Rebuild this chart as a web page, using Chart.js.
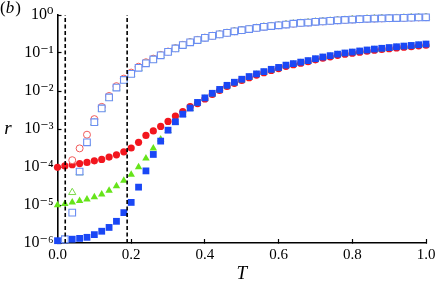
<!DOCTYPE html>
<html><head><meta charset="utf-8">
<script src="https://cdn.jsdelivr.net/npm/chart.js@4/dist/chart.umd.min.js"></script>
<style>html,body{margin:0;padding:0;background:#fff;overflow:hidden}</style>
</head><body>
<canvas id="c" width="436" height="283"></canvas>
<script>
// Temperature values (x)
const T = [0,0.02,0.04,0.06,0.08,0.1,0.12,0.14,0.16,0.18,
           0.2,0.22,0.24,0.26,0.28,0.3,0.32,0.34,0.36,0.38,
           0.4,0.42,0.44,0.46,0.48,0.5,0.52,0.54,0.56,0.58,
           0.6,0.62,0.64,0.66,0.68,0.7,0.72,0.74,0.76,0.78,
           0.8,0.82,0.84,0.86,0.88,0.9,0.92,0.94,0.96,0.98,1];

// filled markers
const filledSquares = [1.15e-6,1.2e-6,1.26e-6,1.32e-6,1.41e-6,1.66e-6,2.04e-6,2.57e-6,3.72e-6,6.3e-6,
  1.17e-5,2.95e-5,7.9e-5,2.14e-4,4.8e-4,9.3e-4,1.55e-3,2.45e-3,3.55e-3,5.0e-3,
  6.6e-3,8.7e-3,1.10e-2,1.41e-2,1.70e-2,2.04e-2,2.40e-2,2.82e-2,3.24e-2,3.72e-2,
  4.17e-2,4.79e-2,5.25e-2,5.75e-2,6.31e-2,7.08e-2,7.85e-2,8.51e-2,9.33e-2,0.100,
  0.106,0.113,0.120,0.127,0.133,0.139,0.146,0.152,0.158,0.165,
  0.172];
const filledCircles = [9.8e-5,1.07e-4,1.15e-4,1.23e-4,1.32e-4,1.45e-4,1.58e-4,1.82e-4,2.09e-4,2.51e-4,
  3.16e-4,4.47e-4,6.76e-4,8.9e-4,1.17e-3,1.58e-3,2.19e-3,2.88e-3,3.89e-3,4.67e-3,
  6.16e-3,8.1e-3,1.03e-2,1.32e-2,1.59e-2,1.90e-2,2.24e-2,2.63e-2,3.02e-2,3.47e-2,
  3.89e-2,4.47e-2,4.90e-2,5.37e-2,5.89e-2,6.61e-2,7.32e-2,7.94e-2,8.71e-2,9.33e-2,
  0.099,0.105,0.112,0.118,0.124,0.130,0.136,0.142,0.147,0.154,
  0.160];
const filledTriangles = [1.0e-5,1.07e-5,1.17e-5,1.29e-5,1.41e-5,1.62e-5,1.91e-5,2.4e-5,3.16e-5,4.37e-5,
  6.31e-5,1.0e-4,1.70e-4,3.09e-4,5.37e-4,8.9e-4,1.48e-3,2.34e-3,3.39e-3,4.78e-3,
  6.3e-3,8.31e-3,1.05e-2,1.35e-2,1.62e-2,1.95e-2,2.29e-2,2.69e-2,3.09e-2,3.55e-2,
  3.98e-2,4.57e-2,5.01e-2,5.49e-2,6.03e-2,6.76e-2,7.5e-2,8.13e-2,8.91e-2,9.55e-2,
  0.101,0.108,0.115,0.121,0.127,0.133,0.139,0.145,0.151,0.158,
  0.164];

// open markers
const openSquares = [null,1.26e-6,6.3e-6,7.6e-5,4.47e-4,1.51e-3,3.47e-3,6.76e-3,1.23e-2,1.95e-2,
  2.82e-2,4.07e-2,5.37e-2,6.76e-2,8.71e-2,0.107,0.132,0.162,0.191,0.219,
  0.251,0.282,0.309,0.339,0.372,0.398,0.427,0.457,0.490,0.513,
  0.537,0.562,0.589,0.617,0.631,0.661,0.676,0.700,0.724,0.741,
  0.759,0.776,0.794,0.804,0.813,0.822,0.832,0.841,0.851,0.861,
  0.871];
const openCircles = [null,null,1.51e-4,3.09e-4,7.08e-4,1.82e-3,3.82e-3,7.4e-3,1.34e-2,2.12e-2,
  3.05e-2,4.35e-2,5.7e-2,7.1e-2,8.9e-2,0.109,0.134,0.164,0.193,0.221,
  0.253,0.284,0.311,0.341,0.374,0.400,0.429,0.459,0.492,0.515,
  0.539,0.564,0.591,0.619,0.633,0.663,0.678,0.702,0.726,0.743,
  0.761,0.778,0.796,0.806,0.815,0.824,0.834,0.843,0.853,0.863,
  0.873];
const openTriangles = [null,null,2.14e-5,7.1e-5,4.27e-4,1.45e-3,3.35e-3,6.5e-3,1.19e-2,1.88e-2,
  2.72e-2,3.93e-2,5.2e-2,6.55e-2,8.45e-2,0.104,0.129,0.158,0.187,0.215,
  0.246,0.277,0.304,0.334,0.367,0.393,0.422,0.452,0.485,0.508,
  0.532,0.557,0.584,0.612,0.626,0.656,0.671,0.695,0.719,0.736,
  0.754,0.771,0.789,0.799,0.808,0.817,0.827,0.836,0.846,0.856,
  0.866];

// reference lines and axes
const dashedT = [0.021, 0.189];
const xRange = [0, 1];
const yRange = [1e-6, 1];
const xTicks = [0, 0.2, 0.4, 0.6, 0.8, 1.0];
const xTickLabels = ['0.0','0.2','0.4','0.6','0.8','1.0'];
const yTicks = [1e-6,1e-5,1e-4,1e-3,1e-2,1e-1,1];
const yTickLabels = ['10\u207B\u2076','10\u207B\u2075','10\u207B\u2074','10\u207B\u00B3','10\u207B\u00B2','10\u207B\u00B9','10\u2070'];

const SERIF = '"Liberation Serif", "DejaVu Serif", serif';
const pts = vals => T.map((t, i) => ({x: t, y: vals[i]}));
const vline = t => [{x: t, y: yRange[0]}, {x: t, y: yRange[1]}];

function markerDs(vals, style, radius, bg, border, bw) {
  return {data: pts(vals), pointStyle: style, pointRadius: radius, pointHoverRadius: radius,
    backgroundColor: bg, borderColor: border, pointBorderWidth: bw, borderWidth: bw,
    showLine: false, clip: false};
}
function dashDs(t) {
  return {data: vline(t), showLine: true, pointRadius: 0, borderColor: '#000',
    borderWidth: 1.6, borderDash: [4, 2.5], clip: false, fill: false};
}

const textPlugin = {
  id: 'texts',
  afterDraw(chart) {
    const ctx = chart.ctx, a = chart.chartArea;
    ctx.save();
    ctx.fillStyle = '#000';
    ctx.textAlign = 'center'; ctx.textBaseline = 'middle';
    ctx.font = 'italic 19px ' + SERIF;
    ctx.fillText('r', 8, (a.top + a.bottom) / 2);
    ctx.textAlign = 'left'; ctx.textBaseline = 'alphabetic';
    let x = 0;
    ctx.font = '17px ' + SERIF; ctx.fillText('(', x, 13); x += ctx.measureText('(').width;
    ctx.font = 'italic 17px ' + SERIF; ctx.fillText('b', x, 13); x += ctx.measureText('b').width + 1;
    ctx.font = '17px ' + SERIF; ctx.fillText(')', x, 13);
    ctx.restore();
  }
};

new Chart(document.getElementById('c'), {
  type: 'scatter',
  data: {datasets: [
    dashDs(dashedT[0]),
    dashDs(dashedT[1]),
    markerDs(openSquares, 'rect', 4.7, '#ffffff', '#6b8ef2', 1.1),
    markerDs(openTriangles, 'triangle', 4.2, '#ffffff', '#7ad94a', 1),
    markerDs(openCircles, 'circle', 3.5, '#ffffff', '#f05a5a', 1),
    markerDs(filledSquares, 'rect', 4.8, '#1a47f5', '#1a47f5', 0),
    markerDs(filledTriangles, 'triangle', 4.3, '#66e41a', '#66e41a', 0),
    markerDs(filledCircles, 'circle', 3.6, '#f2161e', '#f2161e', 0)
  ]},
  options: {
    responsive: false, animation: false, devicePixelRatio: 1,
    layout: {padding: 0},
    plugins: {legend: {display: false}, tooltip: {enabled: false}, title: {display: false}},
    scales: {
      x: {
        type: 'linear', min: xRange[0], max: xRange[1], position: 'bottom',
        afterBuildTicks: s => { s.ticks = xTicks.map(v => ({value: v})); },
        afterFit: s => { s.height = 40; s.paddingLeft = 0; s.paddingRight = 10; },
        ticks: {callback: (v, i) => xTickLabels[i], font: {family: SERIF, size: 15}, color: '#000',
          padding: 7, maxRotation: 0, autoSkip: false},
        grid: {drawOnChartArea: false, drawTicks: true, tickLength: -4, tickColor: '#000', tickWidth: 1.2},
        border: {display: true, color: '#000', width: 1.6},
        title: {display: true, text: 'T', color: '#000', padding: {top: 0, bottom: 0},
          font: {family: SERIF, size: 19, style: 'italic', lineHeight: 1}}
      },
      y: {
        type: 'logarithmic', min: yRange[0], max: yRange[1], position: 'left',
        afterBuildTicks: s => { s.ticks = yTicks.map(v => ({value: v})); },
        afterFit: s => { s.width = 57.5; s.paddingTop = 15; s.paddingBottom = 0; },
        ticks: {callback: (v, i) => yTickLabels[i], font: {family: SERIF, size: 16}, color: '#000',
          padding: 8, autoSkip: false},
        grid: {drawOnChartArea: false, drawTicks: true, tickLength: -4, tickColor: '#000', tickWidth: 1.2},
        border: {display: true, color: '#000', width: 1.6}
      }
    }
  },
  plugins: [textPlugin]
});
</script>
</body></html>
